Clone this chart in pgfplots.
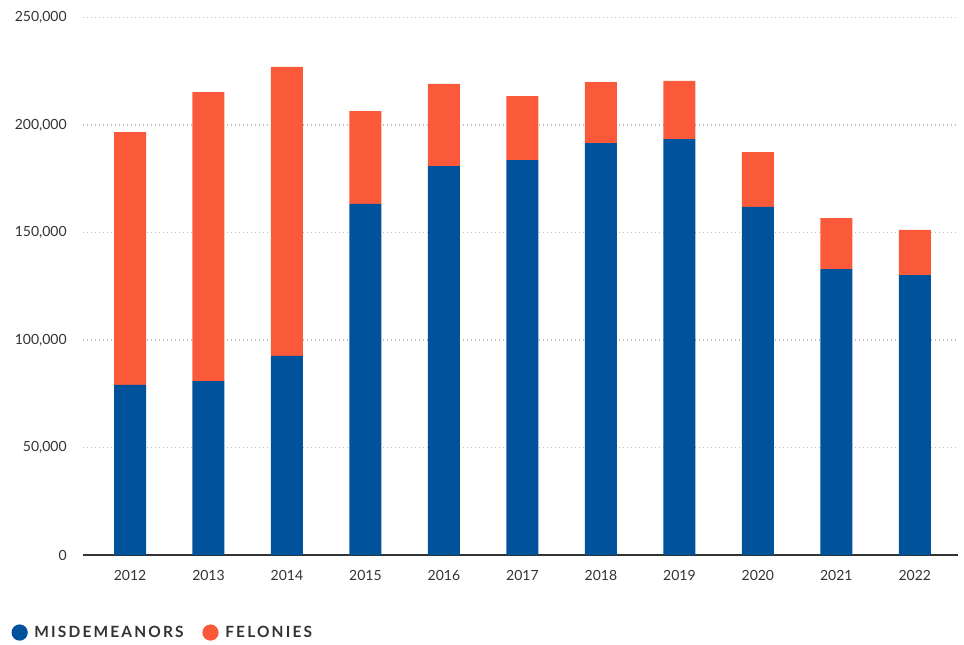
\documentclass[border=0pt]{standalone}
\usepackage{pgfplots}
\pgfplotsset{compat=1.18}
\usepackage{fontspec}
\setmainfont{Lato}
\definecolor{blueC}{HTML}{00529B}
\definecolor{orangeC}{HTML}{FB5A3A}
\definecolor{txt}{HTML}{333333}
\definecolor{gridc}{HTML}{BDBDBD}
\begin{document}
\begin{tikzpicture}
\useasboundingbox (0,0) rectangle (723pt,483pt);
\begin{axis}[
  at={(62.25pt,66.75pt)}, anchor=south west,
  scale only axis, width=656.25pt, height=403.1pt,
  ybar stacked, bar width=24pt,
  xmin=-0.599, xmax=10.55, ymin=0, ymax=250000,
  xtick={0,...,10},
  xticklabels={2012,2013,2014,2015,2016,2017,2018,2019,2020,2021,2022},
  ytick={0,50000,100000,150000,200000,250000},
  yticklabels={0,{50,000},{100,000},{150,000},{200,000},{250,000}},
  scaled y ticks=false,
  axis x line*=bottom, axis y line*=left,
  y axis line style={draw=none},
  x axis line style={draw=txt, line width=1.1pt, -},
  major tick length=0pt,
  ymajorgrids, grid style={gridc, line width=1.1pt, dash pattern=on 1.1pt off 1.9pt},
  tick label style={font=\fontsize{10.5}{12}\selectfont, text=txt},
  yticklabel style={inner sep=0pt, xshift=-12pt},
  xticklabel style={yshift=-8pt},
  legend style={at={(-0.082,-0.145)}, anchor=west, draw=none, fill=none,
    legend columns=2, inner sep=0pt,
    font=\fontsize{11.6}{13}\selectfont\bfseries\addfontfeature{LetterSpace=14},
    text=txt,
    /tikz/every odd column/.append style={column sep=3pt},
    /tikz/every even column/.append style={column sep=12pt}},
  legend cell align=left,
]
\addplot+[fill=blueC, draw=none,
  legend image code/.code={\fill[blueC] (0pt,0.3pt) circle (6.1pt);}]
  coordinates {(0,79100) (1,80900) (2,92600) (3,163300) (4,180900) (5,183700)
               (6,191600) (7,193500) (8,161900) (9,133000) (10,130200)};
\addlegendentry{MISDEMEANORS}
\addplot+[fill=orangeC, draw=none,
  legend image code/.code={\fill[orangeC] (0pt,0.3pt) circle (6.1pt);}]
  coordinates {(0,117600) (1,134400) (2,134400) (3,43200) (4,38200) (5,29800)
               (6,28400) (7,27000) (8,25500) (9,23700) (10,21000)};
\addlegendentry{FELONIES}
\end{axis}
\end{tikzpicture}
\end{document}
